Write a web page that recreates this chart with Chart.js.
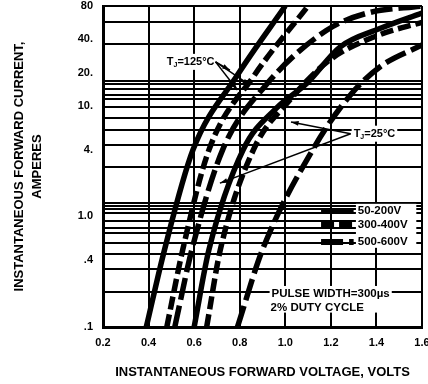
<!DOCTYPE html>
<html>
<head>
<meta charset="utf-8">
<script src="https://cdn.jsdelivr.net/npm/chart.js@4.4.1/dist/chart.umd.min.js"></script>
<style>
  html, body { margin: 0; padding: 0; background: #fff; }
</style>
</head>
<body>
<canvas id="chart" width="428" height="384"></canvas>
<script>
// forward voltage (V) and current (A)
const solid125V = [0.39, 0.47, 0.595, 0.79, 1.0];
const solid125A = [0.1, 0.5, 4, 19, 80];
const dash125V = [0.48, 0.55, 0.665, 0.865, 1.1];
const dash125A = [0.1, 0.5, 4, 19, 80];
const long125V = [0.515, 0.59, 0.725, 0.91, 1.18, 1.36, 1.6];
const long125A = [0.1, 0.5, 4, 15, 48, 69, 80];

const solid25V = [0.6, 0.665, 0.815, 0.96, 1.095, 1.24, 1.415, 1.6];
const solid25A = [0.1, 0.5, 4, 9.5, 16, 34, 50, 69];
const dash25V = [0.655, 0.715, 0.86, 1.02, 1.195, 1.415, 1.6];
const dash25A = [0.1, 0.5, 4, 11.3, 26, 44, 57];
const long25V = [0.79, 0.9, 1.12, 1.285, 1.415, 1.6];
const long25A = [0.1, 0.5, 4, 12.5, 22.5, 35.5];

// axes
const xTickValues = [0.2, 0.4, 0.6, 0.8, 1.0, 1.2, 1.4, 1.6];
const xTickLabels = ['0.2', '0.4', '0.6', '0.8', '1.0', '1.2', '1.4', '1.6'];
const yLabelValues = [0.1, 0.4, 1, 4, 10, 20, 40, 80];
const yLabelText = ['.1', '.4', '1.0', '4.', '10.', '20.', '40.', '80'];
// the horizontal rules of the printed graph paper (irregular in the scan)
const yGridValues = [0.1, 0.207, 0.335, 0.458, 0.575, 0.71, 0.79, 0.91, 1.07, 1.17, 1.24, 1.32,
  2.8, 4.4, 6.05, 7.8, 9.8, 11.5, 12.5, 14.2, 15.8, 16.8, 36, 57, 80];

const seriesNames = ['50-200V', '300-400V', '500-600V'];

const FONT = '"Liberation Sans", Arial, sans-serif';
const dashMid = [13, 5];
const dashLong = [22, 6];
const styles = [[], dashMid, dashLong];

const pts = (vs, as) => vs.map((v, i) => ({ x: v, y: as[i] }));
const curve = (label, vs, as, dash) => ({
  label: label,
  data: pts(vs, as),
  showLine: true,
  borderColor: '#000',
  borderWidth: 5.5,
  borderDash: dash,
  borderCapStyle: 'butt',
  pointRadius: 0,
  cubicInterpolationMode: 'monotone',
  fill: false
});

const gridSet = new Set(yGridValues);
const yAll = Array.from(new Set(yGridValues.concat(yLabelValues))).sort((a, b) => a - b);

function arrow(ctx, x1, y1, x2, y2) {
  ctx.beginPath();
  ctx.moveTo(x1, y1);
  ctx.lineTo(x2, y2);
  ctx.stroke();
  const a = Math.atan2(y2 - y1, x2 - x1);
  ctx.beginPath();
  ctx.moveTo(x2, y2);
  ctx.lineTo(x2 - 8 * Math.cos(a - 0.3), y2 - 8 * Math.sin(a - 0.3));
  ctx.lineTo(x2 - 8 * Math.cos(a + 0.3), y2 - 8 * Math.sin(a + 0.3));
  ctx.closePath();
  ctx.fill();
}

function tjLabel(ctx, xLeft, yMid, temp) {
  const rest = '=' + temp + '\u00B0C';
  ctx.font = 'bold 11px ' + FONT;
  const wT = ctx.measureText('T').width;
  const wR = ctx.measureText(rest).width;
  ctx.font = 'bold 7px ' + FONT;
  const wJ = ctx.measureText('J').width;
  ctx.fillStyle = '#fff';
  ctx.fillRect(xLeft - 2, yMid - 8, wT + wJ + wR + 4, 16);
  ctx.fillStyle = '#000';
  ctx.textAlign = 'left';
  ctx.textBaseline = 'middle';
  ctx.font = 'bold 11px ' + FONT;
  ctx.fillText('T', xLeft, yMid);
  ctx.font = 'bold 7px ' + FONT;
  ctx.fillText('J', xLeft + wT, yMid + 3);
  ctx.font = 'bold 11px ' + FONT;
  ctx.fillText(rest, xLeft + wT + wJ, yMid);
  return wT + wJ + wR;
}

const notes = {
  id: 'notes',
  afterDatasetsDraw(chart) {
    const { ctx, scales: { x, y } } = chart;
    const px = v => x.getPixelForValue(v);
    const py = a => y.getPixelForValue(a);
    ctx.save();
    ctx.strokeStyle = '#000';
    ctx.fillStyle = '#000';

    // Tj = 125 C and its arrows
    const w125 = tjLabel(ctx, px(0.48), py(25), 125);
    ctx.lineWidth = 1.5;
    const ax = px(0.48) + w125 + 1, ay = py(25);
    arrow(ctx, ax, ay, px(0.757), py(21));
    arrow(ctx, ax, ay, px(0.79), py(13.9));
    arrow(ctx, ax, ay, px(0.845), py(15.4));

    // Tj = 25 C and its arrows
    const bx = px(1.3), by = py(5.6);
    ctx.lineWidth = 1.5;
    arrow(ctx, bx - 3, by, px(1.025), py(7.15));
    arrow(ctx, bx - 3, by, px(0.713), py(2.0));
    tjLabel(ctx, bx, by, 25);

    // legend
    ctx.fillStyle = '#fff';
    ctx.fillRect(px(1.31), py(1.3), px(1.575) - px(1.31), py(0.52) - py(1.3));
    const legY = [1.12, 0.837, 0.588];
    seriesNames.forEach((name, i) => {
      const yy = py(legY[i]);
      ctx.lineWidth = 6;
      ctx.lineCap = 'butt';
      ctx.setLineDash(styles[i]);
      ctx.beginPath();
      ctx.moveTo(px(1.157), yy);
      ctx.lineTo(px(1.30), yy);
      ctx.stroke();
      ctx.setLineDash([]);
      ctx.fillStyle = '#000';
      ctx.font = 'bold 11.5px ' + FONT;
      ctx.textAlign = 'left';
      ctx.textBaseline = 'middle';
      ctx.fillText(name, px(1.318), yy);
    });

    // pulse note
    const nx = px(0.94);
    ctx.font = 'bold 11.5px ' + FONT;
    const l1 = 'PULSE WIDTH=300\u00B5s', l2 = '2% DUTY CYCLE';
    const nw = ctx.measureText(l1).width;
    ctx.fillStyle = '#fff';
    ctx.fillRect(nx - 2, py(0.235), nw + 4, py(0.135) - py(0.235));
    ctx.fillStyle = '#000';
    ctx.textAlign = 'left';
    ctx.textBaseline = 'middle';
    ctx.fillText(l1, nx, py(0.2));
    ctx.fillText(l2, nx - 1, py(0.148));
    ctx.restore();
  }
};

new Chart(document.getElementById('chart'), {
  type: 'scatter',
  data: {
    datasets: [
      curve('125C ' + seriesNames[0], solid125V, solid125A, styles[0]),
      curve('125C ' + seriesNames[1], dash125V, dash125A, styles[1]),
      curve('125C ' + seriesNames[2], long125V, long125A, styles[2]),
      curve('25C ' + seriesNames[0], solid25V, solid25A, styles[0]),
      curve('25C ' + seriesNames[1], dash25V, dash25A, styles[1]),
      curve('25C ' + seriesNames[2], long25V, long25A, styles[2])
    ]
  },
  options: {
    responsive: false,
    animation: false,
    devicePixelRatio: 1,
    layout: { padding: { left: 0, top: 6, right: 6, bottom: 0 } },
    plugins: { legend: { display: false }, tooltip: { enabled: false } },
    scales: {
      x: {
        type: 'linear',
        min: 0.2,
        max: 1.6,
        afterBuildTicks: s => { s.ticks = xTickValues.map(v => ({ value: v })); },
        afterFit: s => { s.height = 57; s.paddingLeft = 0; s.paddingRight = 0; },
        ticks: {
          autoSkip: false,
          maxRotation: 0,
          padding: 9,
          color: '#000',
          font: { family: FONT, weight: 'bold', size: 11 },
          callback: (v, i) => xTickLabels[i]
        },
        grid: { color: '#000', lineWidth: 2, drawTicks: false },
        border: { color: '#000', width: 3 },
        title: {
          display: true,
          text: 'INSTANTANEOUS FORWARD VOLTAGE, VOLTS',
          color: '#000',
          font: { family: FONT, weight: 'bold', size: 13 },
          padding: { top: 0, bottom: 4 }
        }
      },
      y: {
        type: 'logarithmic',
        min: 0.1,
        max: 80,
        afterBuildTicks: s => { s.ticks = yAll.map(v => ({ value: v })); },
        afterFit: s => { s.width = 103; s.paddingTop = 0; s.paddingBottom = 0; },
        ticks: {
          autoSkip: false,
          padding: 10,
          color: '#000',
          font: { family: FONT, weight: 'bold', size: 11 },
          callback: v => {
            const k = yLabelValues.indexOf(v);
            return k >= 0 ? yLabelText[k] : '';
          }
        },
        grid: {
          lineWidth: 2,
          drawTicks: false,
          color: c => (c.tick && gridSet.has(c.tick.value)) ? '#000' : 'rgba(0,0,0,0)'
        },
        border: { color: '#000', width: 3 },
        title: {
          display: true,
          text: ['INSTANTANEOUS FORWARD CURRENT,', 'AMPERES'],
          color: '#000',
          font: { family: FONT, weight: 'bold', size: 13, lineHeight: 1.4 },
          padding: { top: 10, bottom: 0 }
        }
      }
    }
  },
  plugins: [notes]
});
</script>
</body>
</html>
